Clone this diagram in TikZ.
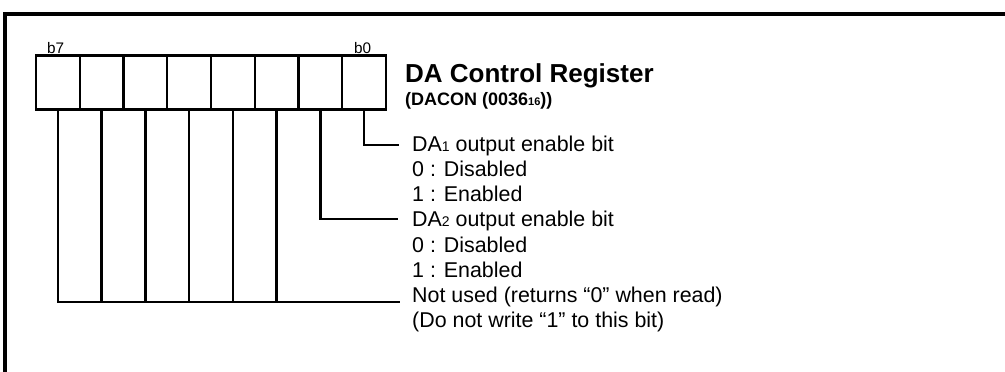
\documentclass[tikz,border=0pt]{standalone}
\usepackage{fontspec}
\setmainfont{Liberation Sans}
\begin{document}
\begin{tikzpicture}[x=1pt,y=-1pt,
  cell/.style={draw,line width=2.4pt,minimum width=43.75pt,minimum height=54pt,inner sep=0pt,outer sep=0pt},
  conn/.style={line width=2.6pt},
  frame/.style={line width=3.6pt},
  txt/.style={anchor=base west,inner sep=0pt,font=\fontsize{21.4}{25}\selectfont},
  blbl/.style={anchor=base west,inner sep=0pt,font=\fontsize{15.3}{18}\selectfont}]
\useasboundingbox (0,0) rectangle (1005,372);
% frame
\draw[frame] (5,372) -- (5,14) -- (1005,14);
% register cells
\foreach \i/\b in {0/7,1/6,2/5,3/4,4/3,5/2,6/1,7/0}{
  \node[cell] (c\b) at ({36+43.75*\i+21.875},82.5) {};
}
\node[blbl] (lb7) at (47,53) {b7};
\node[blbl] (lb0) at (354,53) {b0};
% title
\node[anchor=base west,inner sep=0pt,font=\fontsize{26}{30}\selectfont\bfseries] (title) at (405,82) {DA Control Register};
\node[anchor=base west,inner sep=0pt,font=\fontsize{18}{20}\selectfont\bfseries] (sub) at (405,105) {(DACON (0036{\fontsize{11}{11}\selectfont 16}))};
% descriptions
\node[txt] (t1) at (412,151) {DA{\fontsize{14}{14}\selectfont 1} output enable bit};
\node[txt] (t1a) at (412,176) {0 : Disabled};
\node[txt] (t1b) at (412,201) {1 : Enabled};
\node[txt] (t2) at (412,226) {DA{\fontsize{14}{14}\selectfont 2} output enable bit};
\node[txt] (t2a) at (412,252) {0 : Disabled};
\node[txt] (t2b) at (412,277) {1 : Enabled};
\node[txt] (t3) at (412,302) {Not used (returns “0” when read)};
\node[txt] (t3a) at (412,327) {(Do not write “1” to this bit)};
% connector ends
\coordinate (e0) at (399,145);
\coordinate (e1) at (398,219);
\coordinate (e2) at (400,302);
\draw[conn] (c0.south) |- (e0);
\draw[conn] (c1.south) |- (e1);
\draw[conn] (c7.south) |- (e2);
\foreach \b in {6,5,4,3,2}{
  \draw[conn] (c\b.south) -- (c\b.south |- e2);
}
\end{tikzpicture}
\end{document}
